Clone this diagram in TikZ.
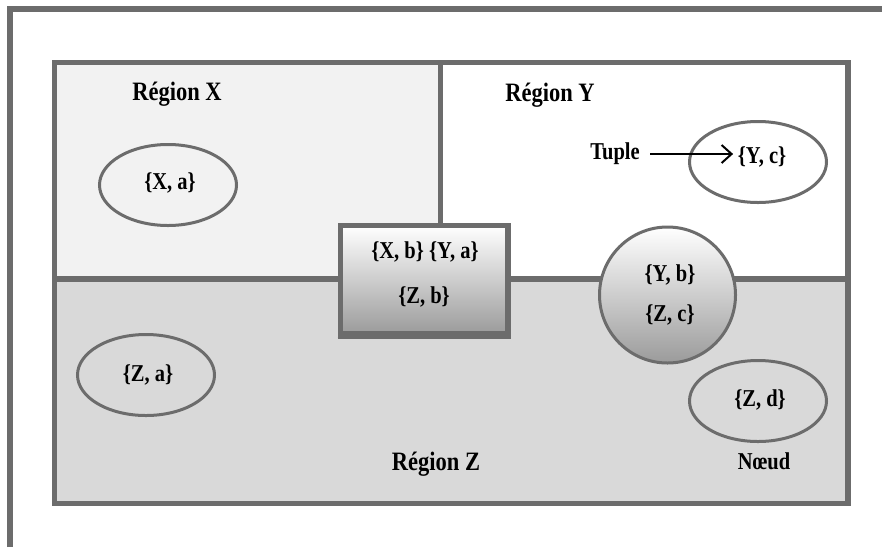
\documentclass[tikz,border=0pt]{standalone}
\usepackage{fontspec}
\setmainfont{Liberation Serif}
\usepackage{graphicx}
\usetikzlibrary{arrows.meta,shapes.geometric}
\definecolor{frame}{RGB}{108,108,108}
\definecolor{rx}{RGB}{242,242,242}
\definecolor{rz}{RGB}{217,217,217}
\definecolor{shbot}{RGB}{155,155,155}
\newcommand\vs[1]{\scalebox{1}[1.18]{#1}}
\tikzset{
  lbl/.style={font=\fontsize{20.5}{24}\selectfont\bfseries, inner sep=1.5pt},
  reg/.style={font=\fontsize{22.5}{26}\selectfont\bfseries, inner sep=1.5pt},
  ell/.style={ellipse, draw=frame, line width=3, minimum width=137, minimum height=81, inner sep=0pt},
  thick frame/.style={draw=frame, line width=5.5},
}
\begin{document}
\begin{tikzpicture}[x=1pt,y=-1pt]
\useasboundingbox (0,0) rectangle (882,547);
\fill[white] (0,0) rectangle (882,547);
% outer frame
\draw[thick frame] (10,547) -- (10,9) -- (882,9);
% regions
\fill[rx] (54.5,62.5) rectangle (440.5,279);
\fill[white] (440.5,62.5) rectangle (848,279);
\fill[rz] (54.5,279) rectangle (848,503.5);
\draw[thick frame] (440.5,62.5) -- (440.5,279);
\draw[thick frame] (54.5,279) -- (848,279);
\draw[thick frame] (54.5,62.5) rectangle (848,503.5);
% region labels
\node[reg] (rX) at (177,94) {\vs{Région X}};
\node[reg] (rY) at (550,95) {\vs{Région Y}};
\node[reg] (rZ) at (436,464) {\vs{Région Z}};
% ellipses
\node[ell] (xa) at (168,185) {};
\node[lbl] (xal) at (170,183) {\vs{\{X, a\}}};
\node[ell] (za) at (146,375) {};
\node[lbl] (zal) at (148,375) {\vs{\{Z, a\}}};
\node[ell] (yc) at (758,162) {};
\node[lbl] (ycl) at (762,157) {\vs{\{Y, c\}}};
\node[ell] (zd) at (758,401) {};
\node[lbl] (zdl) at (760,400) {\vs{\{Z, d\}}};
\node[lbl] (noeud) at (764,461) {\vs{Nœud}};
% shared box
\node[rectangle, draw=frame, line width=5.5, minimum width=167.5, minimum height=108.5,
      inner sep=0pt, top color=white, bottom color=shbot] (box) at (424.2,279.7) {};
\draw[frame, line width=2] ([yshift=-0.8pt]box.south west) -- ([yshift=-0.8pt]box.south east);
\node[lbl] (b1) at (425,251.7) {\vs{\{X, b\} \{Y, a\}}};
\node[lbl] (b2) at (424,296.7) {\vs{\{Z, b\}}};
% shared circle
\node[circle, draw=frame, line width=3, minimum size=136, inner sep=0pt,
      top color=white, bottom color=shbot] (cir) at (667.5,295) {};
\node[lbl] (c1) at (670,275) {\vs{\{Y, b\}}};
\node[lbl] (c2) at (670,315) {\vs{\{Z, c\}}};
% tuple arrow
\node[lbl] (tuple) at (615,154) {\vs{Tuple}};
\draw[line width=2, shorten <=9pt, shorten >=3pt, -{Straight Barb[length=10pt,width=18pt,line width=2]}]
  (tuple.east) -- (tuple.east -| ycl.west);
\end{tikzpicture}
\end{document}
